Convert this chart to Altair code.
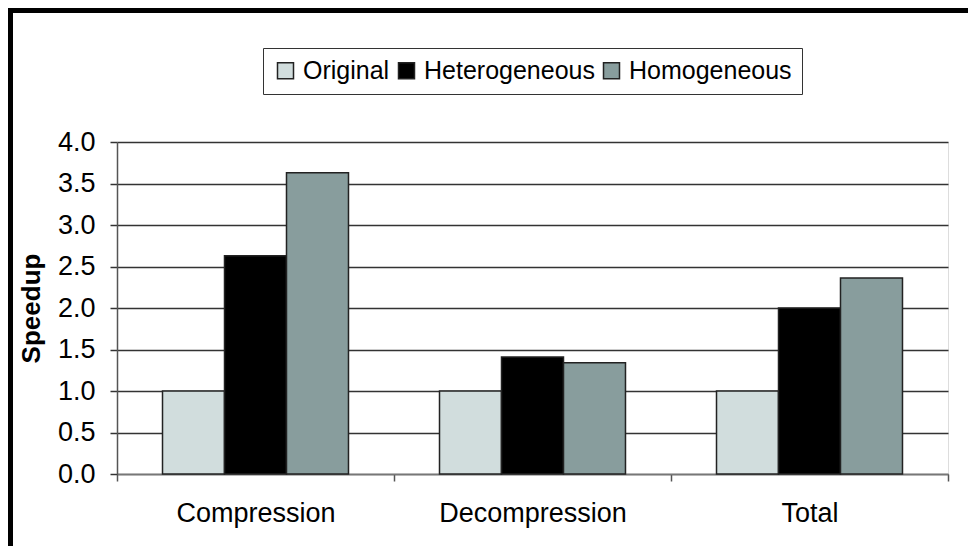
import altair as alt
import pandas as pd

categories = ["Compression", "Decompression", "Total"]
series_names = ["Original", "Heterogeneous", "Homogeneous"]
original = [1.0, 1.0, 1.0]
heterogeneous = [2.63, 1.41, 2.00]
homogeneous = [3.63, 1.34, 2.36]
series_colors = ["#d1dddd", "#000000", "#889d9d"]
y_ticks = [0.0, 0.5, 1.0, 1.5, 2.0, 2.5, 3.0, 3.5, 4.0]

rows = []
for name, vals in zip(series_names, [original, heterogeneous, homogeneous]):
    for c, v in zip(categories, vals):
        rows.append({"category": c, "series": name, "speedup": v})
df = pd.DataFrame(rows)

FONT = "Liberation Sans"

bars = alt.Chart(df).mark_bar(stroke="#222222", strokeWidth=1.5).encode(
    x=alt.X("category:N", sort=categories,
            scale=alt.Scale(paddingInner=0, paddingOuter=0),
            axis=alt.Axis(title=None, labelAngle=0, labelFontSize=27, labelFont=FONT,
                          labelColor="#000000", labelPadding=19, labelLimit=0,
                          tickBand="extent",
                          tickSize=7, tickColor="#555555", tickWidth=1.5,
                          domainColor="#777777", domainWidth=1.5, grid=False)),
    xOffset=alt.XOffset("series:N", sort=series_names,
                        scale=alt.Scale(paddingInner=0, paddingOuter=0.734)),
    y=alt.Y("speedup:Q", scale=alt.Scale(domain=[0, 4], nice=False),
            axis=alt.Axis(title="Speedup", values=y_ticks, format=".1f",
                          labelFontSize=27, labelFont=FONT, labelColor="#000000",
                          labelPadding=15, tickSize=7, tickColor="#333333", tickWidth=1.5,
                          domainColor="#555555", domainWidth=1.5,
                          grid=True, gridColor="#333333", gridWidth=1.5,
                          titleFont=FONT, titleFontSize=26, titleFontWeight="bold",
                          titleColor="#000000", titlePadding=13)),
    color=alt.Color("series:N", sort=series_names,
                    scale=alt.Scale(domain=series_names, range=series_colors),
                    legend=alt.Legend(title=None, orient="none", legendX=146, legendY=-94,
                                      direction="horizontal", columns=3,
                                      symbolType="square", symbolSize=256,
                                      symbolStrokeColor="#222222", symbolStrokeWidth=1.5,
                                      symbolOpacity=1,
                                      labelFont=FONT, labelFontSize=25, labelColor="#000000",
                                      labelOffset=5, labelLimit=0, columnPadding=4,
                                      padding=10, strokeColor="#333333",
                                      fillColor="#ffffff")),
)

frame = pd.DataFrame({"k": [0]})
left_border = alt.Chart(frame).mark_rule(color="#000000", strokeWidth=6, clip=False).encode(
    x=alt.value(-107), y=alt.value(-134), y2=alt.value(404))
top_border = alt.Chart(frame).mark_rule(color="#000000", strokeWidth=6, clip=False).encode(
    x=alt.value(-110), x2=alt.value(851), y=alt.value(-132))

chart = alt.layer(bars, left_border, top_border).properties(
    width=831, height=332,
    autosize=alt.AutoSizeParams(type="none"),
    padding={"left": 109, "top": 134, "right": 20, "bottom": 72},
).configure_view(stroke="#b0b8b8", strokeWidth=1.5).configure(background="#ffffff")

chart.save("out.html", embed_options={"renderer": "svg", "actions": False})
